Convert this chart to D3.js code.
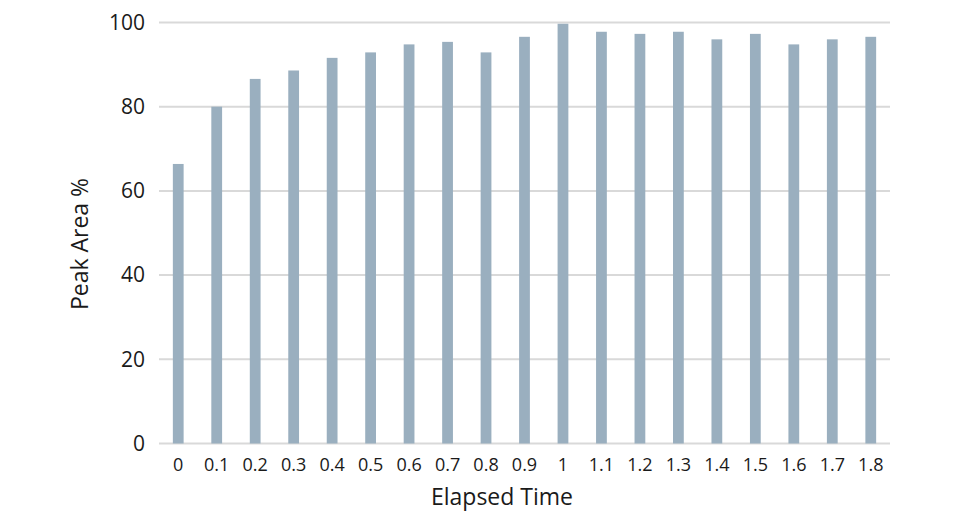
<!DOCTYPE html>
<html><head><meta charset="utf-8">
<script src="https://cdn.jsdelivr.net/npm/d3@7"></script>
<style>body{margin:0;background:#fff;} text{font-family:"Open Sans",sans-serif;fill:#1a1a1a;}</style>
</head><body>
<svg id="c" width="967" height="518"></svg>
<script>
const categories = ["0","0.1","0.2","0.3","0.4","0.5","0.6","0.7","0.8","0.9","1","1.1","1.2","1.3","1.4","1.5","1.6","1.7","1.8"];
const values = [66.4,80,86.6,88.6,91.6,92.9,94.8,95.4,92.9,96.6,99.7,97.8,97.3,97.8,96.0,97.3,94.8,96.0,96.6];
const yTicks = [0,20,40,60,80,100];
const xTitle = "Elapsed Time";
const yTitle = "Peak Area %";

(function(){
const svg = d3.select("#c");
const mLeft = 159, mRight = 890, mTop = 22.5, mBottom = 443.5;
const x = d3.scaleBand().domain(categories).range([mLeft, mRight]).paddingInner(0.72).paddingOuter(0.36);
const y = d3.scaleLinear().domain([0,100]).range([mBottom, mTop]);

// gridlines
svg.append("g").selectAll("line").data(yTicks).join("line")
  .attr("x1", mLeft).attr("x2", mRight)
  .attr("y1", d => y(d)).attr("y2", d => y(d))
  .attr("stroke", "#d9d9d9").attr("stroke-width", 2);

// bars
svg.append("g").selectAll("rect").data(values).join("rect")
  .attr("x", (d,i) => x(categories[i]))
  .attr("width", x.bandwidth())
  .attr("y", d => y(d))
  .attr("height", d => y(0) - y(d))
  .attr("fill", "#9aafbf");

// y axis labels
const yAxis = d3.axisLeft(y).tickValues(yTicks).tickSize(0).tickPadding(0).tickFormat(d3.format("d"));
const gy = svg.append("g").attr("transform", `translate(${145},0)`).call(yAxis);
gy.select(".domain").remove();
gy.selectAll("text").style("font-size", "21px").attr("fill", "#1a1a1a").attr("font-family", "Open Sans");

// x axis labels
const xAxis = d3.axisBottom(x).tickSize(0).tickPadding(0);
const gx = svg.append("g").attr("transform", `translate(0,${458})`).call(xAxis);
gx.select(".domain").remove();
gx.selectAll("text").style("font-size", "18px").attr("fill", "#1a1a1a").attr("font-family", "Open Sans");

// titles
svg.append("text").attr("x", 502).attr("y", 505).attr("text-anchor", "middle")
  .style("font-size", "23px").text(xTitle);
svg.append("text").attr("transform", "translate(88,244) rotate(-90)").attr("text-anchor", "middle")
  .style("font-size", "23px").text(yTitle);
})();
</script>
</body></html>
